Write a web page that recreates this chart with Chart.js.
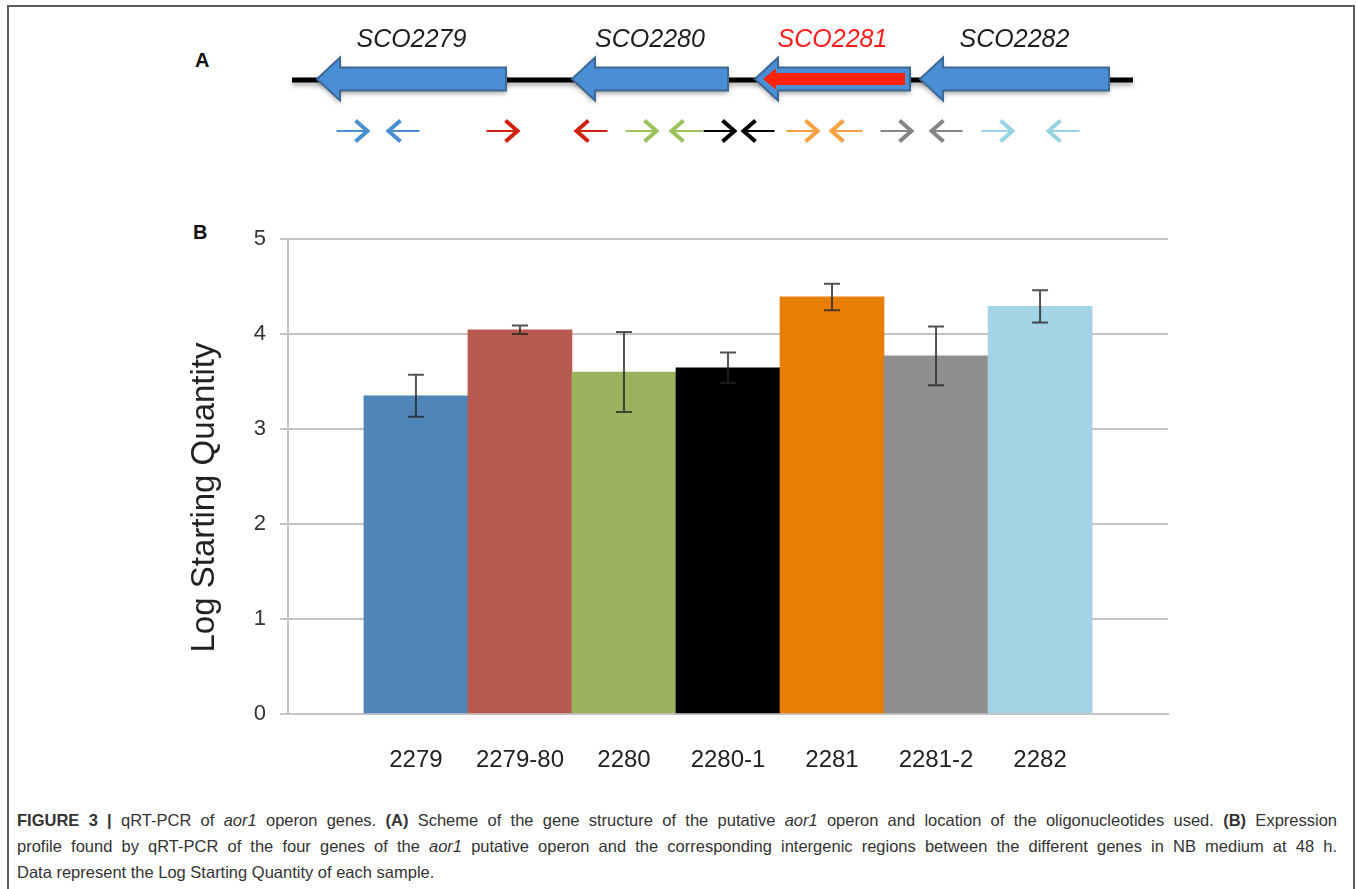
<!DOCTYPE html>
<html lang="en">
  <head>
    <meta charset="UTF-8" />
    <title>FIGURE 3 | qRT-PCR of aor1 operon genes</title>
    <script src="https://cdn.jsdelivr.net/npm/chart.js"></script>
    <style>
      body { margin: 0; background: #fff; font-family: "Liberation Sans", Arial, sans-serif; }
      .page { position: relative; width: 1357px; height: 889px; overflow: hidden; }
      .frame {
        position: absolute; left: 7px; top: 5px; width: 1348px; height: 920px;
        border: 2px solid #5c5c5c; box-sizing: border-box;
      }
      .letter { position: absolute; font-weight: bold; font-size: 20px; line-height: 22px; color: #111; }
      #schemeWrap { position: absolute; left: 0; top: 0; width: 1357px; height: 170px; }
      #barWrap { position: absolute; left: 160px; top: 210px; width: 1040px; height: 574px; }
      .caption {
        position: absolute; left: 17px; top: 807px; width: 1320px;
        font-size: 16.5px; line-height: 26px; color: #333;
      }
      .caption .j { text-align: justify; text-align-last: justify; white-space: nowrap; }
    </style>
  </head>
  <body>
    <div class="page">
      <div class="frame"></div>
      <div class="letter" style="left: 195px; top: 49px;">A</div>
      <div class="letter" style="left: 193px; top: 221px;">B</div>

      <div id="schemeWrap"><canvas id="scheme"></canvas></div>
      <div id="barWrap"><canvas id="myChart"></canvas></div>

      <div class="caption">
        <div class="j"><b>FIGURE 3 |</b> qRT-PCR of <i>aor1</i> operon genes. <b>(A)</b> Scheme of the gene structure of the putative <i>aor1</i> operon and location of the oligonucleotides used. <b>(B)</b> Expression</div>
        <div class="j">profile found by qRT-PCR of the four genes of the <i>aor1</i> putative operon and the corresponding intergenic regions between the different genes in NB medium at 48 h.</div>
        <div>Data represent the Log Starting Quantity of each sample.</div>
      </div>
    </div>

    <script>
      // ---- panel A: operon map (positions along the map, left to right) ----
      const geneNames = ['SCO2279', 'SCO2280', 'SCO2281', 'SCO2282'];
      const geneStart = [317, 572, 755, 920];
      const geneEnd = [506, 728, 910, 1109];
      const geneLabelColors = ['#1e1e1e', '#1e1e1e', '#ff1c1c', '#1e1e1e'];
      const highlightedGene = 'SCO2281';
      const mapExtent = [292, 1133];

      const primerPos = [352, 404, 502, 592, 641, 687, 719, 759, 802, 847, 896, 947, 997, 1064];
      const primerDir = [1, -1, 1, -1, 1, -1, 1, -1, 1, -1, 1, -1, 1, -1];
      const primerColors = ['#4a8fd2', '#4a8fd2', '#d0210f', '#d0210f', '#9cc35c', '#9cc35c', '#000000',
        '#000000', '#f9a040', '#f9a040', '#858585', '#858585', '#98d3e3', '#98d3e3'];

      // ---- panel B: qRT-PCR ----
      const sampleLabels = ['2279', '2279-80', '2280', '2280-1', '2281', '2281-2', '2282'];
      const logQuantity = [3.35, 4.045, 3.60, 3.645, 4.39, 3.77, 4.29];
      const errorSD = [0.22, 0.045, 0.42, 0.16, 0.14, 0.31, 0.17];
      const barColors = ['#5085b8', '#b85a50', '#9ab35e', '#000000', '#e87e04', '#8e8e8e', '#a3d3e4'];
      const yTicks = [0, 1, 2, 3, 4, 5];

      const FONT = '"Liberation Sans", Arial, sans-serif';

      function leftArrow(ctx, xTip, xEnd, yc, bodyH, headH, headL) {
        ctx.beginPath();
        ctx.moveTo(xTip, yc);
        ctx.lineTo(xTip + headL, yc - headH);
        ctx.lineTo(xTip + headL, yc - bodyH);
        ctx.lineTo(xEnd, yc - bodyH);
        ctx.lineTo(xEnd, yc + bodyH);
        ctx.lineTo(xTip + headL, yc + bodyH);
        ctx.lineTo(xTip + headL, yc + headH);
        ctx.closePath();
      }

      const operonScheme = {
        id: 'operonScheme',
        afterDraw(chart) {
          const { ctx, scales: { x, y } } = chart;
          const lineY = y.getPixelForValue(80);
          const labelY = y.getPixelForValue(40);
          const primerY = y.getPixelForValue(131);
          ctx.save();

          // chromosome line
          ctx.shadowColor = 'rgba(0,0,0,0.35)';
          ctx.shadowBlur = 5;
          ctx.shadowOffsetY = 3;
          ctx.fillStyle = '#000';
          ctx.fillRect(x.getPixelForValue(mapExtent[0]), lineY - 2.5,
            x.getPixelForValue(mapExtent[1]) - x.getPixelForValue(mapExtent[0]), 5);

          // genes (all on the reverse strand)
          geneNames.forEach((name, i) => {
            const tip = x.getPixelForValue(geneStart[i]);
            const end = x.getPixelForValue(geneEnd[i]);
            ctx.shadowColor = 'rgba(0,0,0,0.35)';
            ctx.shadowBlur = 5;
            ctx.shadowOffsetY = 3;
            leftArrow(ctx, tip, end, lineY - 1, 11.5, 21.5, 23);
            ctx.fillStyle = '#4a8fd5';
            ctx.fill();
            ctx.shadowColor = 'transparent';
            ctx.strokeStyle = '#3c6895';
            ctx.lineWidth = 2;
            ctx.stroke();
            if (name === highlightedGene) {
              leftArrow(ctx, tip + 8, end - 5, lineY - 1, 6, 10.5, 13);
              ctx.fillStyle = '#ff2200';
              ctx.fill();
            }
            ctx.fillStyle = geneLabelColors[i];
            ctx.font = 'italic 25px ' + FONT;
            ctx.textAlign = 'center';
            ctx.textBaseline = 'middle';
            ctx.fillText(name, (tip + end) / 2, labelY);
          });

          // primers
          ctx.shadowColor = 'transparent';
          primerPos.forEach((p, i) => {
            const cx = x.getPixelForValue(p);
            const d = primerDir[i];
            const tipX = cx + d * 15.5;
            ctx.strokeStyle = primerColors[i];
            ctx.lineWidth = 2;
            ctx.beginPath();
            ctx.moveTo(cx - d * 15.5, primerY);
            ctx.lineTo(tipX - d * 2, primerY);
            ctx.stroke();
            ctx.lineWidth = 4;
            ctx.lineJoin = 'miter';
            ctx.beginPath();
            ctx.moveTo(tipX - d * 12, primerY - 10.5);
            ctx.lineTo(tipX, primerY);
            ctx.lineTo(tipX - d * 12, primerY + 10.5);
            ctx.stroke();
          });
          ctx.restore();
        }
      };

      new Chart(document.getElementById('scheme'), {
        type: 'scatter',
        data: { datasets: [] },
        options: {
          responsive: true,
          maintainAspectRatio: false,
          animation: false,
          layout: { padding: 0 },
          plugins: { legend: { display: false }, tooltip: { enabled: false } },
          scales: {
            x: { type: 'linear', min: 0, max: 1357, display: false },
            y: { type: 'linear', min: 0, max: 170, reverse: true, display: false }
          }
        },
        plugins: [operonScheme]
      });

      // error bars + rotated axis title
      const errorBars = {
        id: 'errorBars',
        afterDatasetsDraw(chart) {
          const { ctx, chartArea, scales: { x, y } } = chart;
          ctx.save();
          ctx.strokeStyle = 'rgba(35,35,35,0.78)';
          ctx.lineWidth = 2;
          logQuantity.forEach((v, i) => {
            const px = x.getPixelForValue(i);
            const top = y.getPixelForValue(v + errorSD[i]);
            const bot = y.getPixelForValue(v - errorSD[i]);
            ctx.beginPath();
            ctx.moveTo(px, top); ctx.lineTo(px, bot);
            ctx.moveTo(px - 8, top); ctx.lineTo(px + 8, top);
            ctx.moveTo(px - 8, bot); ctx.lineTo(px + 8, bot);
            ctx.stroke();
          });
          ctx.translate(chartArea.left - 83, (chartArea.top + chartArea.bottom) / 2 + 21);
          ctx.rotate(-Math.PI / 2);
          ctx.fillStyle = '#222';
          ctx.font = '33px ' + FONT;
          ctx.textAlign = 'center';
          ctx.textBaseline = 'middle';
          ctx.fillText('Log Starting Quantity', 0, 0);
          ctx.restore();
        }
      };

      const ctx = document.getElementById('myChart').getContext('2d');
      const sideGap = 0.73;
      new Chart(ctx, {
        type: 'bar',
        data: {
          datasets: [{
            label: 'Log Starting Quantity',
            data: logQuantity.map((v, i) => ({ x: i, y: v })),
            backgroundColor: barColors,
            borderWidth: 0,
            barPercentage: 1,
            categoryPercentage: 1
          }]
        },
        options: {
          responsive: true,
          maintainAspectRatio: false,
          animation: false,
          layout: { padding: { top: 29, right: 32, left: 0, bottom: 0 } },
          plugins: { legend: { display: false }, tooltip: { enabled: false } },
          scales: {
            x: {
              type: 'linear',
              offset: false,
              min: -0.5 - sideGap,
              max: sampleLabels.length - 0.5 + sideGap,
              grid: { display: false, drawTicks: false, offset: false },
              border: { display: true, color: '#c4c4c4', width: 2 },
              afterBuildTicks: (scale) => { scale.ticks = sampleLabels.map((_, i) => ({ value: i })); },
              ticks: {
                autoSkip: false,
                maxRotation: 0,
                padding: 32,
                color: '#222',
                font: { family: FONT, size: 24 },
                callback: (value) => sampleLabels[value]
              },
              afterFit: (scale) => { scale.height = 70; }
            },
            y: {
              min: 0,
              max: 5,
              afterBuildTicks: (scale) => { scale.ticks = yTicks.map(v => ({ value: v })); },
              grid: { color: '#c4c4c4', lineWidth: 2, tickLength: 8 },
              border: { color: '#c4c4c4', width: 2 },
              ticks: { padding: 14, color: '#333', font: { family: FONT, size: 22 } },
              afterFit: (scale) => { scale.width = 128; }
            }
          }
        },
        plugins: [errorBars]
      });
    </script>
  </body>
</html>
